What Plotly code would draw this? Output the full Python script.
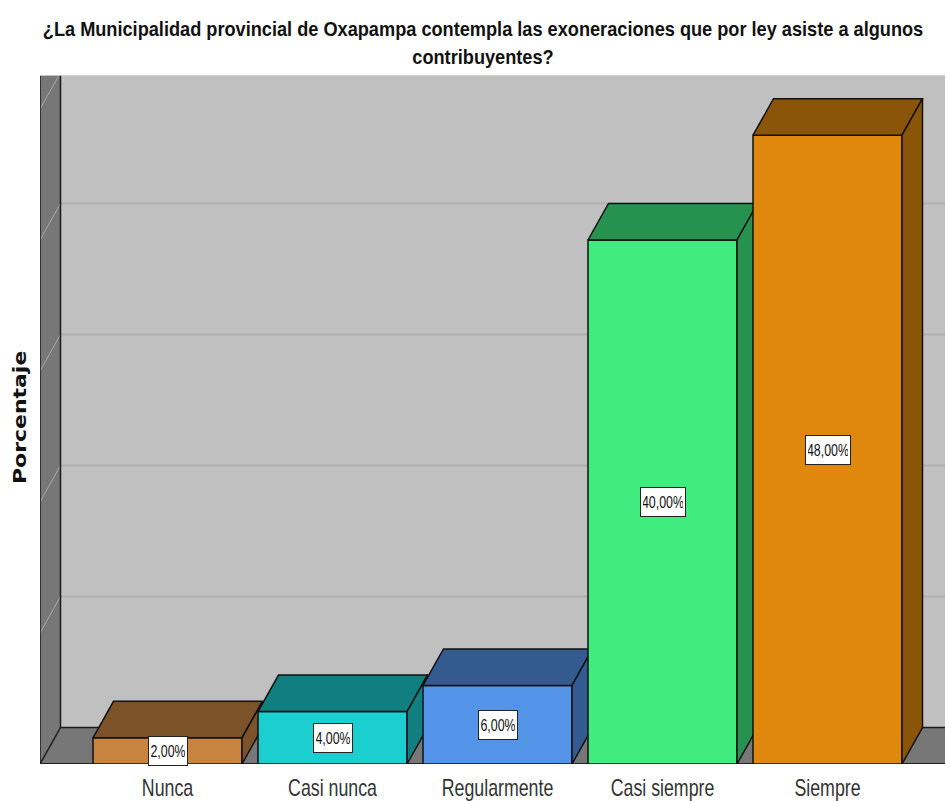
import plotly.graph_objects as go

categories = ["Nunca", "Casi nunca", "Regularmente", "Casi siempre", "Siempre"]
percentages = [2, 4, 6, 40, 48]
value_labels = ["2,00%", "4,00%", "6,00%", "40,00%", "48,00%"]
y_grid = [0, 10, 20, 30, 40, 50]
front_colors = ["#c8843e", "#1bcfd0", "#5494e8", "#41ec7f", "#e0880e"]
shade_colors = ["#7c5228", "#117f7f", "#335b90", "#27914f", "#8a5508"]
title = ("¿La Municipalidad provincial de Oxapampa contempla las exoneraciones que por ley asiste a algunos"
         "<br>contribuyentes?")

# plot-area geometry
W, H = 945, 801
L, R, T, B = 40, 945, 75, 764
px_per_cat = 165.0
px_per_pct = 13.1
x0_px = 167.5
xr = [(L - x0_px) / px_per_cat, (R - x0_px) / px_per_cat]
yr = [0, (B - T) / px_per_pct]
dx = 20.5 / px_per_cat          # depth offset, x units
dy = 36.5 / px_per_pct          # depth offset, y units
bw = 149 / px_per_cat
edge = dict(color="#111111", width=1.5)
FONT = "Liberation Sans, Arial, sans-serif"

fig = go.Figure()
# baseline on the main axes
fig.add_trace(go.Scatter(x=[xr[0], xr[1]], y=[0, 0], mode="lines",
                         line=dict(color="#222222", width=2), hoverinfo="skip", showlegend=False))

shapes = []
wall_x = xr[0] + dx
shapes.append(dict(type="path", layer="below", xref="x", yref="y",
                   path=f"M{xr[0]},0 L{xr[0]},{yr[1]} L{wall_x},{yr[1]} L{wall_x},{dy} Z",
                   fillcolor="#777777", line=dict(width=0)))
shapes.append(dict(type="path", layer="below", xref="x", yref="y",
                   path=f"M{xr[0]},0 L{wall_x},{dy} L{xr[1]},{dy} L{xr[1]},0 Z",
                   fillcolor="#777777", line=dict(width=0)))
for g in y_grid[1:]:
    shapes.append(dict(type="line", layer="below", xref="x", yref="y", x0=wall_x, x1=xr[1],
                       y0=g + dy, y1=g + dy, line=dict(color="#b0b0b0", width=2)))
    shapes.append(dict(type="line", layer="below", xref="x", yref="y", x0=xr[0], x1=wall_x,
                       y0=g, y1=g + dy, line=dict(color="#a8a8a8", width=1)))
for x_a, y_a, x_b, y_b in [(xr[0], 0, xr[0], yr[1]), (wall_x, dy, wall_x, yr[1]),
                           (wall_x, dy, xr[1], dy), (xr[0], 0, wall_x, dy)]:
    shapes.append(dict(type="line", layer="below", xref="x", yref="y", x0=x_a, x1=x_b,
                       y0=y_a, y1=y_b, line=dict(color="#1a1a1a", width=1.5)))
shapes.append(dict(type="line", layer="below", xref="x", yref="y", x0=xr[0], x1=xr[1],
                   y0=yr[1], y1=yr[1], line=dict(color="#dddddd", width=1.5)))

layout_extra = {}
for i, v in enumerate(percentages):
    n = i + 2
    xa, ya = f"x{n}", f"y{n}"
    lo, hi = i - bw / 2, i + bw / 2
    fig.add_trace(go.Scatter(x=[lo, hi, hi + dx, lo + dx, lo], y=[v, v, v + dy, v + dy, v],
                             xaxis=xa, yaxis=ya, mode="lines", fill="toself", fillcolor=shade_colors[i],
                             line=edge, hoverinfo="skip", showlegend=False))
    fig.add_trace(go.Scatter(x=[hi, hi + dx, hi + dx, hi, hi], y=[0, dy, v + dy, v, 0],
                             xaxis=xa, yaxis=ya, mode="lines", fill="toself", fillcolor=shade_colors[i],
                             line=edge, hoverinfo="skip", showlegend=False))
    fig.add_trace(go.Bar(x=[i], y=[v], width=bw, xaxis=xa, yaxis=ya,
                         marker=dict(color=front_colors[i], line=edge),
                         hoverinfo="skip", showlegend=False))
    layout_extra[f"xaxis{n}"] = dict(overlaying="x", range=xr, visible=False, fixedrange=True, automargin=False)
    layout_extra[f"yaxis{n}"] = dict(overlaying="y", range=yr, visible=False, fixedrange=True, automargin=False)

annotations = [
    dict(x=i, y=v / 2, xref="x", yref="y", text=value_labels[i], showarrow=False,
         font=dict(family=FONT, size=17, color="#111111"),
         width=34 if v < 10 else 40, height=24, align="center", valign="middle",
         bgcolor="#ffffff", bordercolor="#222222", borderwidth=1, borderpad=2)
    for i, v in enumerate(percentages)
]
annotations.append(dict(x=(19 - L) / (R - L), y=(B - 418) / (B - T), xref="paper", yref="paper",
                        xanchor="center", yanchor="middle", text="Porcentaje", showarrow=False,
                        textangle=-90, font=dict(family="DejaVu Sans", size=18, weight=700, color="#111111")))

fig.update_layout(
    width=W, height=H, margin=dict(l=L, r=W - R, t=T, b=H - B, autoexpand=False),
    paper_bgcolor="#ffffff", plot_bgcolor="#c0c0c0", showlegend=False, barmode="overlay",
    title=dict(text=title, x=483 / W, xanchor="center", y=1 - 36.5 / H, yanchor="middle", automargin=False,
               font=dict(family=FONT, size=21, weight=700, color="#111111")),
    xaxis=dict(range=xr, tickmode="array", tickvals=list(range(5)), ticktext=categories, showgrid=False,
               zeroline=False, showline=False, ticks="outside", ticklen=2, tickcolor="rgba(0,0,0,0)",
               automargin=False, fixedrange=True, tickfont=dict(family=FONT, size=24, color="#333333")),
    yaxis=dict(range=yr, tickmode="array", tickvals=y_grid, showticklabels=False, showgrid=False,
               zeroline=False, showline=False, ticks="", fixedrange=True, automargin=False),
    shapes=shapes, annotations=annotations, **layout_extra,
)

# The reference text is horizontally condensed: squeeze or stretch the real text to the same widths.
post = """
document.body.style.margin = '0';
function fit(el, k) {
  var n = el.getComputedTextLength();
  el.setAttribute('textLength', n * k);
  el.setAttribute('lengthAdjust', 'spacingAndGlyphs');
}
function apply() {
  if (window.__fitted) return;
  window.__fitted = true;
  document.querySelectorAll('.xtick text').forEach(function (t) { fit(t, 0.74); });
  document.querySelectorAll('.annotation-text').forEach(function (t) {
    fit(t, t.textContent === 'Porcentaje' ? 1.22 : 0.73);
  });
  document.querySelectorAll('.gtitle').forEach(function (t) {
    var cx = parseFloat(t.getAttribute('x'));
    var prior = t.getAttribute('transform') || '';
    t.setAttribute('transform', prior + ' translate(' + cx + ',0) scale(0.866,1) translate(' + (-cx) + ',0)');
  });
}
setTimeout(apply, 60);
"""
fig.write_html("out.html", config=dict(displayModeBar=False), post_script=post)
